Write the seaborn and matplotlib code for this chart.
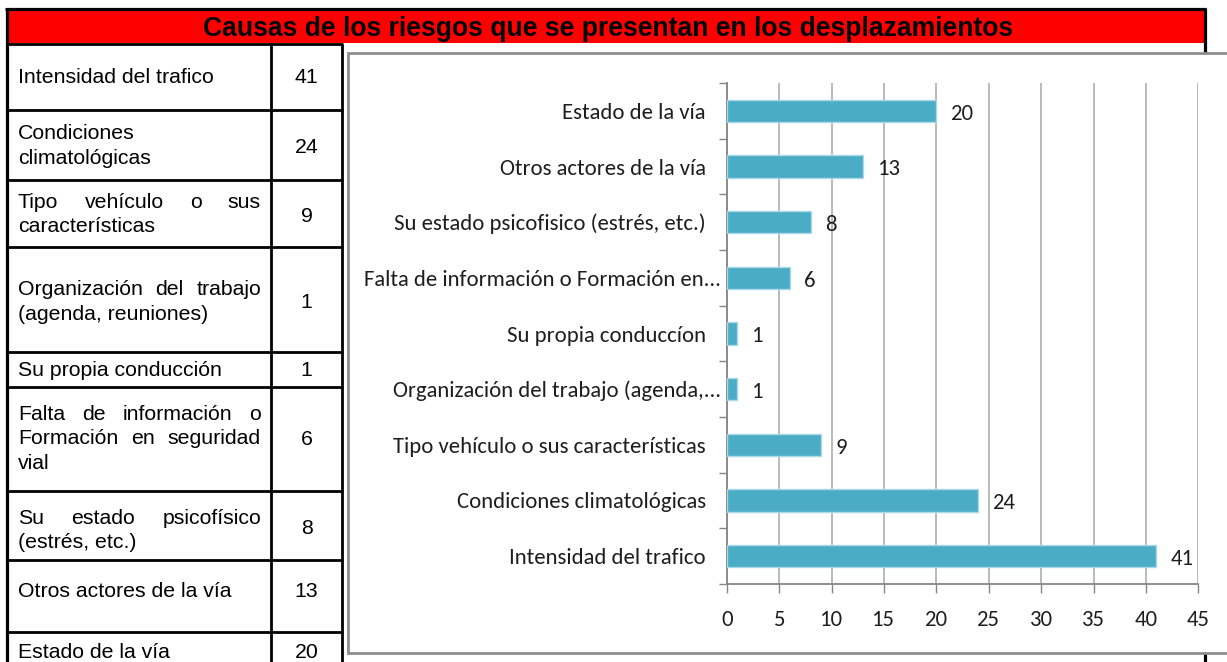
import numpy as np
import pandas as pd
import matplotlib
matplotlib.use("Agg")
import matplotlib.pyplot as plt
import matplotlib.transforms as mtransforms
import seaborn as sns
from matplotlib import font_manager
from matplotlib.patches import Rectangle

TITLE = "Causas de los riesgos que se presentan en los desplazamientos"

# Left-hand table: cause text as wrapped inside its cell
table_lines = [
    ["Intensidad del trafico"],
    ["Condiciones", "climatológicas"],
    ["Tipo vehículo o sus", "características"],
    ["Organización del trabajo", "(agenda, reuniones)"],
    ["Su propia conducción"],
    ["Falta de información o", "Formación en seguridad", "vial"],
    ["Su estado psicofísico", "(estrés, etc.)"],
    ["Otros actores de la vía"],
    ["Estado de la vía"],
]

# Category axis labels of the bar chart (same order as the table)
chart_labels = [
    "Intensidad del trafico",
    "Condiciones climatológicas",
    "Tipo vehículo o sus características",
    "Organización del trabajo (agenda,...",
    "Su propia conduccíon",
    "Falta de información o Formación en...",
    "Su estado psicofisico (estrés, etc.)",
    "Otros actores de la vía",
    "Estado de la vía",
]

counts = [41, 24, 9, 1, 1, 6, 8, 13, 20]

x_ticks = [0, 5, 10, 15, 20, 25, 30, 35, 40, 45]

BAR = "#4BACC6"
BAR_EDGE = "#A9D9E7"
AXIS_GREY = "#868686"
GRID_GREY = "#B4B4B4"
TXT = "#1E1E1E"
RED = "#FF0000"

W, H = 1227, 662

sns.set_theme(style="white")
installed = {f.name for f in font_manager.fontManager.ttflist}
chart_font = next((f for f in ["Carlito", "Calibri", "Lato"] if f in installed), "DejaVu Sans")
table_font = "Liberation Sans" if "Liberation Sans" in installed else "DejaVu Sans"
plt.rcParams["font.family"] = [chart_font, "DejaVu Sans"]

fig = plt.figure(figsize=(W / 100, H / 100), dpi=100)
fig.patch.set_facecolor("white")
renderer = fig.canvas.get_renderer()


def px_width(s, **kw):
    t = fig.text(0, 0, s, **kw)
    w = t.get_window_extent(renderer=renderer).width
    t.remove()
    return w


def fit_size(s, target, **kw):
    return 20.0 * target / px_width(s, fontsize=20, **kw)


title_fs = fit_size(TITLE, 810, family=table_font, weight="bold")
table_fs = fit_size("Intensidad del trafico", 196, family=table_font)
chart_fs = fit_size("Falta de información o Formación en...", 357, family=chart_font)

# ---- page-level layer in pixel coordinates (header, table, chart frame) ----
bg = fig.add_axes([0, 0, 1, 1], zorder=0)
bg.set_xlim(0, W)
bg.set_ylim(H, 0)
bg.axis("off")

bg.add_patch(Rectangle((7, 9), 1197, 34, fc=RED, ec="none", zorder=1))
line_kw = dict(color="black", solid_capstyle="butt", clip_on=False)
bg.plot([5, 1206], [8.5, 8.5], lw=2.3, zorder=2, **line_kw)
bg.plot([6.5, 6.5], [7.5, H + 5], lw=2.3, zorder=2, **line_kw)
bg.plot([1204.5, 1204.5], [7.5, H + 5], lw=2.3, zorder=2, **line_kw)

bg.text(608, 36, TITLE, ha="center", va="baseline", family=table_font,
        weight="bold", fontsize=title_fs, color="black", zorder=3)

# table grid
row_edges = [43.5, 110, 180, 247, 352, 387, 491, 560, 632]
for y in row_edges:
    bg.plot([6, 342.5], [y, y], lw=2.0, zorder=2, **line_kw)
for x in (271, 342):
    bg.plot([x, x], [43.5, H + 5], lw=2.0, zorder=2, **line_kw)

first_baselines = [83, 139, 208, 295, 376, 420, 524, 597, 658]
value_baselines = [83, 153, 222, 308, 376, 445, 534, 597, 658]
LINE_STEP = 24.5
X0, X1 = 18, 261

for i, lines in enumerate(table_lines):
    for j, line in enumerate(lines):
        yb = first_baselines[i] + j * LINE_STEP
        words = line.split()
        if j < len(lines) - 1 and len(words) > 1:
            widths = [px_width(wd, family=table_font, fontsize=table_fs) for wd in words]
            gap = (X1 - X0 - sum(widths)) / (len(words) - 1)
            x = X0
            for wd, ww in zip(words, widths):
                bg.text(x, yb, wd, ha="left", va="baseline", family=table_font,
                        fontsize=table_fs, color="black", zorder=3)
                x += ww + gap
        else:
            bg.text(X0, yb, line, ha="left", va="baseline", family=table_font,
                    fontsize=table_fs, color="black", zorder=3)
    bg.text(306.5, value_baselines[i], str(counts[i]), ha="center", va="baseline",
            family=table_font, fontsize=table_fs, color="black", zorder=3)

# chart frame
bg.add_patch(Rectangle((348, 53), 920, 600, fc="white", ec="#8E8E8E", lw=2.0,
                       zorder=5, clip_on=False))

# ---- bar chart ----
x_left, x_right = 726.7, 1198.3
y_top, y_bottom = 83, 584
ax = fig.add_axes([x_left / W, 1 - y_bottom / H, (x_right - x_left) / W,
                   (y_bottom - y_top) / H], zorder=2)
ax.patch.set_visible(False)

df = pd.DataFrame({"causa": chart_labels, "n": counts})
sns.barplot(data=df, x="n", y="causa", order=chart_labels[::-1], color=BAR,
            saturation=1, width=0.4, edgecolor=BAR_EDGE, linewidth=1.0, ax=ax,
            zorder=3)

ax.set_xlim(0, 45)
ax.set_ylim(8.5, -0.5)
ax.set_xlabel("")
ax.set_ylabel("")
ax.set_xticks(x_ticks)
ax.set_xticklabels([str(t) for t in x_ticks])
ax.set_yticks(np.arange(-0.5, 9.0, 1.0), minor=True)

ax.tick_params(axis="y", which="major", length=0, pad=15, labelsize=chart_fs,
               labelcolor=TXT, left=True)
ax.tick_params(axis="y", which="minor", length=5.8, width=1.0, color=AXIS_GREY,
               direction="out", left=True)
ax.tick_params(axis="x", which="major", length=6.5, width=1.0, color=AXIS_GREY,
               direction="out", pad=12, labelsize=chart_fs, labelcolor=TXT,
               bottom=True)

# truncated category names sit closer to the axis
shift = mtransforms.ScaledTranslation(0.15, 0, fig.dpi_scale_trans)
for lbl in ax.get_yticklabels():
    if lbl.get_text().endswith("..."):
        lbl.set_transform(lbl.get_transform() + shift)

ax.set_axisbelow(True)
ax.grid(axis="x", color=GRID_GREY, lw=1.3)
ax.grid(axis="y", visible=False)
for side in ("top", "right"):
    ax.spines[side].set_visible(False)
for side in ("left", "bottom"):
    ax.spines[side].set_color(AXIS_GREY)
    ax.spines[side].set_linewidth(1.3)

for bar in ax.patches:
    val = bar.get_width()
    yc = bar.get_y() + bar.get_height() / 2
    ax.annotate(f"{val:.0f}", (val, yc), xytext=(10.5, -2), textcoords="offset points",
                ha="left", va="center", fontsize=chart_fs, color=TXT)

fig.savefig("out.png", dpi=100)
